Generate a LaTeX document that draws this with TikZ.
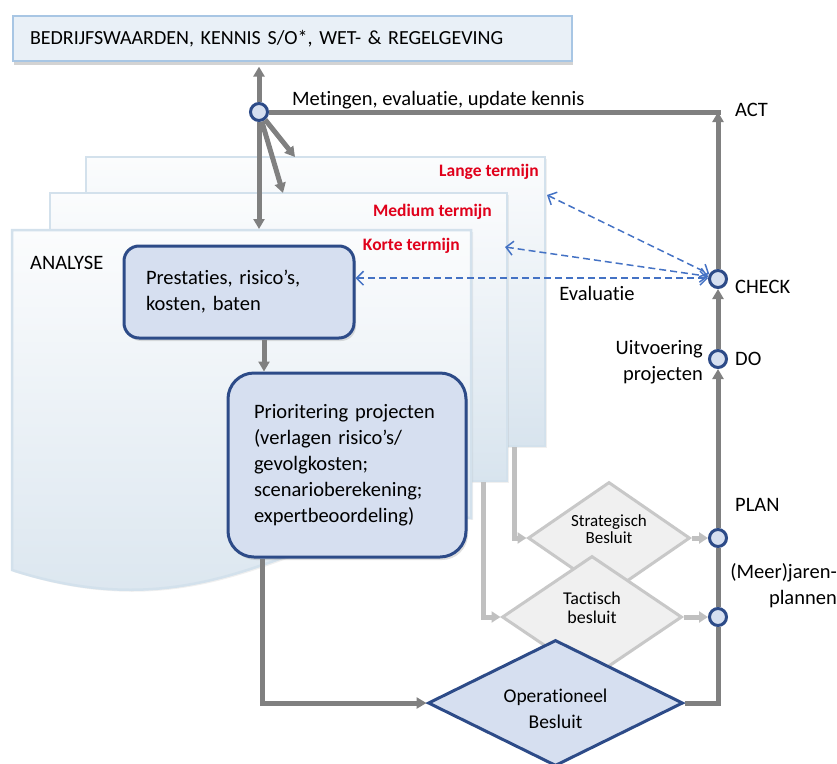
\documentclass[tikz,border=0pt]{standalone}
\usepackage{fontspec}
\setmainfont{Carlito}[Ligatures=NoCommon]
\usetikzlibrary{shapes.geometric,arrows.meta,shadows}
\definecolor{topFill}{HTML}{E9F0F7}
\definecolor{topLine}{HTML}{A8C6E4}
\definecolor{pageTop}{HTML}{FBFCFD}
\definecolor{pageBot}{HTML}{D8E4EE}
\definecolor{pageLine}{HTML}{D3E1EC}
\definecolor{boxFill}{HTML}{D6DFF0}
\definecolor{boxLine}{HTML}{2D4B88}
\definecolor{lineDark}{HTML}{808080}
\definecolor{lineLight}{HTML}{C0C0C0}
\definecolor{diaFill}{HTML}{F0F0F0}
\definecolor{diaLine}{HTML}{C8C8C8}
\definecolor{termRed}{HTML}{E0001B}
\definecolor{evalBlue}{HTML}{4472C4}

\begin{document}
\begin{tikzpicture}[x=1pt,y=-1pt,
  font=\fontsize{20.5}{26}\selectfont,
  lbl/.style={inner sep=0},
  term/.style={inner sep=0, text=termRed, font=\bfseries\fontsize{17.5}{19}\selectfont},
  page/.style={top color=pageTop, bottom color=pageBot, draw=pageLine, line width=2.5pt,
    drop shadow={opacity=.12, shadow xshift=2pt, shadow yshift=-2pt}},
  box/.style={draw=boxLine, fill=boxFill, line width=3pt, text width=186pt, align=left,
    drop shadow={opacity=.25, shadow xshift=2pt, shadow yshift=-3pt}},
  circ/.style={circle, draw=boxLine, fill=boxFill, line width=3pt, minimum size=17pt, inner sep=0},
  dia/.style={diamond, draw=diaLine, fill=diaFill, line width=3pt, inner sep=0},
  dtext/.style={align=center, font=\fontsize{17}{17.5}\selectfont},
  dk/.style={draw=lineDark, line width=5pt},
  dkarr/.style={dk, -{Triangle[length=10pt,width=11pt]}},
  lt/.style={draw=lineLight, line width=5pt, -{Triangle[length=9pt,width=11pt]}},
  evl/.style={draw=evalBlue, line width=1.5pt, dash pattern=on 7pt off 4pt,
    {Straight Barb[length=7pt,width=14pt]}-{Straight Barb[length=7pt,width=14pt]}}]
  \useasboundingbox (0,0) rectangle (837,763);

  \node[draw=topLine, fill=topFill, line width=1.2pt, minimum width=559pt, minimum height=45pt,
    text width=525pt, inner xsep=17pt, align=left, font=\fontsize{20}{24}\selectfont,
    drop shadow={opacity=.35, shadow xshift=1pt, shadow yshift=-4pt}] (top) at (292.5,38.5)
    {BEDRIJFSWAARDEN, KENNIS S/O*, WET- \& REGELGEVING};

  \shade[page] (86,157) rectangle (545,446);
  \shade[page] (50,193) rectangle (507,481);
  \shade[page] (12,230) -- (471,230) -- (471,518) .. controls (320,500) and (230,640) .. (12,570) -- cycle;

  \node[term, anchor=east] (lng) at (539,172) {Lange termijn};
  \node[term, anchor=east] (med) at (492,212) {Medium termijn};
  \node[term, anchor=east] (kor) at (460,246) {Korte termijn};
  \node[lbl, anchor=west] (ana) at (30,263) {ANALYSE};

  \node[box, rounded corners=15pt, minimum width=230pt, minimum height=92pt, inner xsep=22pt]
    (prs) at (239,292) {Prestaties, risico’s,\\kosten, baten};
  \node[box, rounded corners=26pt, minimum width=238pt, minimum height=184pt, inner xsep=26pt]
    (pri) at (347,465) {Prioritering projecten\\(verlagen risico’s/\\gevolgkosten;\\scenarioberekening;\\expertbeoordeling)};

  \node[dia, minimum width=162pt, minimum height=112pt,
    label={[dtext, yshift=9pt]center:Strategisch\\Besluit}] (str) at (609,538) {};
  \node[dia, minimum width=180pt, minimum height=122pt,
    label={[dtext, font=\fontsize{18}{18.5}\selectfont, yshift=9pt]center:Tactisch\\besluit}] (tac) at (592,617) {};
  \node[dia, draw=boxLine, fill=boxFill, minimum width=255pt, minimum height=126pt,
    label={[dtext, font=\fontsize{19.5}{26}\selectfont, yshift=-6pt]center:Operationeel\\Besluit}]
    (ope) at (555.5,703) {};

  \node[circ] (hub) at (259,112) {};
  \node[circ] (chk) at (718,279) {};
  \node[circ] (do) at (718,359) {};
  \node[circ] (pl1) at (718,538) {};
  \node[circ] (pl2) at (718,617) {};

  \coordinate (actc) at (718,112);
  \coordinate (botc) at (718,703);
  \coordinate (lngtop) at (295,157);
  \coordinate (medtop) at (283,193);
  \coordinate (frtop) at (259,229);
  \coordinate (lngedge) at (547,195);
  \coordinate (mededge) at (505,247);
  \coordinate (lngfoot) at (514,447);
  \coordinate (medfoot) at (483,482);

  \draw[dkarr, shorten >=5pt] (hub) -- (hub |- top.south);
  \draw[dkarr] (hub) -- (frtop);
  \draw[dkarr] (hub) -- (lngtop);
  \draw[dkarr] (hub) -- (medtop);
  \draw[dk] ([xshift=2.5pt]actc) -- (hub);
  \draw[dkarr] (chk) -- (actc);
  \draw[dkarr] (do) -- (chk);
  \draw[dkarr] (pl1) -- (do);
  \draw[dk] (pl2) -- (pl1);
  \draw[dk] (ope.east) -- (botc) -- (pl2);
  \draw[dkarr] ([xshift=25pt]prs.south) -- ([xshift=25pt]prs.south |- pri.north);
  \draw[dkarr] ([xshift=-85pt]pri.south) |- (ope.west);

  \draw[lt] (lngfoot) |- (str.west);
  \draw[lt] (medfoot) |- (tac.west);
  \draw[lt] (str.east) -- (pl1);
  \draw[lt] (tac.east) -- (pl2);

  \draw[evl] (lngedge) -- (chk.150);
  \draw[evl] (mededge) -- (chk.165);
  \draw[evl] (prs.east |- chk.175) -- (chk.175);

  \node[lbl, anchor=west] (met) at (292,100) {Metingen, evaluatie, update kennis};
  \node[lbl, anchor=west] (actl) at (735,110) {ACT};
  \node[lbl, anchor=west] (chkl) at (735,287) {CHECK};
  \node[lbl] (eva) at (597,293) {Evaluatie};
  \node[lbl, anchor=west] (dol) at (735,359) {DO};
  \node[lbl, anchor=east, align=right] (uit) at (703,362) {Uitvoering\\projecten};
  \node[lbl, anchor=west] (pll) at (735,505) {PLAN};
  \node[lbl, anchor=east, align=right] (mjp) at (837,586) {(Meer)jaren-\\plannen};
\end{tikzpicture}
\end{document}
